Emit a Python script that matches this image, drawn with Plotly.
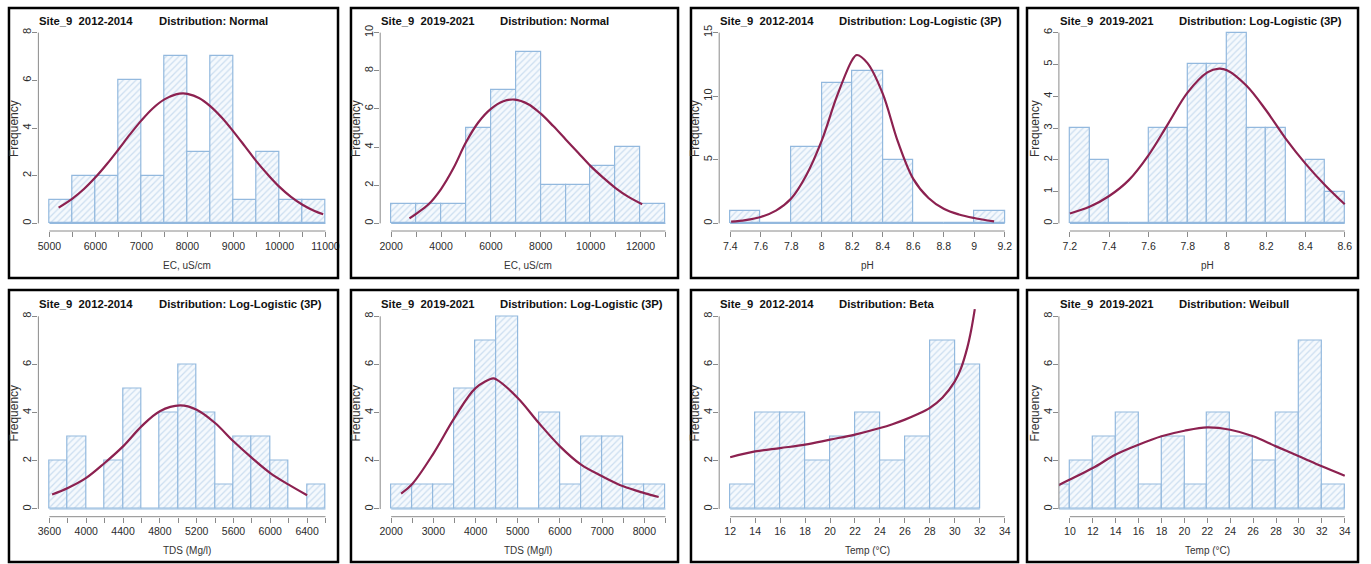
import plotly.graph_objects as go

# ---------------- DATA ----------------
# Histogram bin edges and counts, plus points
ec_1214_edges = [5000, 5500, 6000, 6500, 7000, 7500, 8000, 8500, 9000, 9500, 10000, 10500, 11000]
ec_1214_counts = [1, 2, 2, 6, 2, 7, 3, 7, 1, 3, 1, 1]
ec_1214_fit_x = [5200, 5500, 5750, 6000, 6250, 6500, 6750, 7000, 7250, 7500, 7750, 7900, 8000,
                 8250, 8500, 8750, 9000, 9250, 9500, 9750, 10000, 10250, 10500, 10750, 10950]
ec_1214_fit_y = [0.66, 1.04, 1.44, 1.93, 2.49, 3.10, 3.73, 4.32, 4.83, 5.20, 5.41, 5.45, 5.43,
                 5.26, 4.91, 4.43, 3.85, 3.23, 2.60, 2.04, 1.53, 1.11, 0.78, 0.53, 0.38]

ec_1921_edges = [2000, 3000, 4000, 5000, 6000, 7000, 8000, 9000, 10000, 11000, 12000, 13000]
ec_1921_counts = [1, 1, 1, 5, 7, 9, 2, 2, 3, 4, 1]
ec_1921_fit_x = [2733, 3000, 3500, 4000, 4500, 5000, 5500, 6000, 6500, 6950, 7500, 8000, 8500,
                 9000, 9500, 10000, 10500, 11000, 11500, 12067]
ec_1921_fit_y = [0.26, 0.5, 1.0, 1.8, 2.9, 4.25, 5.3, 6.0, 6.4, 6.49, 6.25, 5.75, 5.1,
                 4.4, 3.7, 3.0, 2.4, 1.85, 1.4, 1.0]

ph_1214_edges = [7.4, 7.6, 7.8, 8.0, 8.2, 8.4, 8.6, 8.8, 9.0, 9.2]
ph_1214_counts = [1, 0, 6, 11, 12, 5, 0, 0, 1]
ph_1214_fit_x = [7.406, 7.5, 7.6, 7.7, 7.8, 7.9, 8.0, 8.1, 8.2, 8.23, 8.3, 8.4, 8.5, 8.6, 8.7,
                 8.8, 8.9, 9.0, 9.13]
ph_1214_fit_y = [0.13, 0.25, 0.5, 1.0, 1.95, 3.8, 6.5, 10.0, 12.85, 13.24, 12.6, 10.2, 6.4, 3.5,
                 2.0, 1.15, 0.7, 0.42, 0.15]

ph_1921_edges = [7.2, 7.3, 7.4, 7.5, 7.6, 7.7, 7.8, 7.9, 8.0, 8.1, 8.2, 8.3, 8.4, 8.5, 8.6]
ph_1921_counts = [3, 2, 0, 0, 3, 3, 5, 5, 6, 3, 3, 0, 2, 1]
ph_1921_fit_x = [7.2, 7.3, 7.4, 7.5, 7.6, 7.7, 7.8, 7.9, 7.96, 8.0, 8.1, 8.2, 8.3, 8.4, 8.5, 8.6]
ph_1921_fit_y = [0.31, 0.52, 0.86, 1.36, 2.14, 3.13, 4.12, 4.75, 4.87, 4.82, 4.33, 3.55, 2.66,
                 1.88, 1.2, 0.6]

tds_1214_edges = [3600, 3800, 4000, 4200, 4400, 4600, 4800, 5000, 5200, 5400, 5600, 5800, 6000,
                  6200, 6400, 6600]
tds_1214_counts = [2, 3, 0, 2, 5, 0, 4, 6, 4, 1, 3, 3, 2, 0, 1]
tds_1214_fit_x = [3629, 3800, 4000, 4200, 4400, 4600, 4800, 5020, 5200, 5400, 5600, 5800, 6000,
                  6200, 6400]
tds_1214_fit_y = [0.6, 0.87, 1.29, 1.91, 2.6, 3.43, 4.06, 4.3, 4.12, 3.57, 2.81, 2.12, 1.49,
                  1.01, 0.57]

tds_1921_edges = [2000, 2500, 3000, 3500, 4000, 4500, 5000, 5500, 6000, 6500, 7000, 7500, 8000, 8500]
tds_1921_counts = [1, 1, 1, 5, 7, 8, 0, 4, 1, 3, 3, 1, 1]
tds_1921_fit_x = [2236, 2500, 3000, 3500, 4000, 4420, 4500, 5000, 5500, 6000, 6500, 7000, 7500,
                  8000, 8339]
tds_1921_fit_y = [0.64, 1.04, 2.3, 3.78, 5.02, 5.42, 5.37, 4.61, 3.57, 2.6, 1.84, 1.36, 0.94,
                  0.66, 0.5]

temp_1214_edges = [12, 14, 16, 18, 20, 22, 24, 26, 28, 30, 32]
temp_1214_counts = [1, 4, 4, 2, 3, 4, 2, 3, 7, 6]
temp_1214_fit_x = [12, 14, 16, 18, 20, 22, 24, 25, 26, 27, 28, 29, 30, 30.5, 31, 31.3, 31.6]
temp_1214_fit_y = [2.15, 2.39, 2.53, 2.67, 2.88, 3.09, 3.36, 3.52, 3.71, 3.93, 4.2, 4.62, 5.3,
                   5.85, 6.7, 7.4, 8.3]

temp_1921_edges = [8, 10, 12, 14, 16, 18, 20, 22, 24, 26, 28, 30, 32, 34]
temp_1921_counts = [1, 2, 3, 4, 1, 3, 1, 4, 3, 2, 4, 7, 1]
temp_1921_fit_x = [9.0, 10, 12, 14, 16, 18, 20, 22, 24, 26, 28, 30, 32, 34]
temp_1921_fit_y = [0.99, 1.22, 1.70, 2.26, 2.67, 3.02, 3.25, 3.39, 3.29, 3.02, 2.6, 2.19, 1.77, 1.38]

# Titles / labels
site_labels = ["Site_9  2012-2014", "Site_9  2019-2021", "Site_9  2012-2014", "Site_9  2019-2021",
               "Site_9  2012-2014", "Site_9  2019-2021", "Site_9  2012-2014", "Site_9  2019-2021"]
dist_labels = ["Distribution: Normal", "Distribution: Normal",
               "Distribution: Log-Logistic (3P)", "Distribution: Log-Logistic (3P)",
               "Distribution: Log-Logistic (3P)", "Distribution: Log-Logistic (3P)",
               "Distribution: Beta", "Distribution: Weibull"]
x_titles = ["EC, uS/cm", "EC, uS/cm", "pH", "pH", "TDS (Mg/l)", "TDS (Mg/l)", "Temp (°C)", "Temp (°C)"]
y_title = "Frequency"

# Axis ticks (values and labels)
x_ticks = [
    [5000, 5500, 6000, 6500, 7000, 7500, 8000, 8500, 9000, 9500, 10000, 10500, 11000],
    [2000, 3000, 4000, 5000, 6000, 7000, 8000, 9000, 10000, 11000, 12000, 13000],
    [7.4, 7.6, 7.8, 8.0, 8.2, 8.4, 8.6, 8.8, 9.0, 9.2],
    [7.2, 7.4, 7.6, 7.8, 8.0, 8.2, 8.4, 8.6],
    [3600, 3800, 4000, 4200, 4400, 4600, 4800, 5000, 5200, 5400, 5600, 5800, 6000, 6200, 6400, 6600],
    [2000, 2500, 3000, 3500, 4000, 4500, 5000, 5500, 6000, 6500, 7000, 7500, 8000, 8500],
    [12, 14, 16, 18, 20, 22, 24, 26, 28, 30, 32, 34],
    [10, 12, 14, 16, 18, 20, 22, 24, 26, 28, 30, 32, 34],
]
x_tick_labels = [
    ["5000", "", "6000", "", "7000", "", "8000", "", "9000", "", "10000", "", "11000"],
    ["2000", "", "4000", "", "6000", "", "8000", "", "10000", "", "12000", ""],
    ["7.4", "7.6", "7.8", "8", "8.2", "8.4", "8.6", "8.8", "9", "9.2"],
    ["7.2", "7.4", "7.6", "7.8", "8", "8.2", "8.4", "8.6"],
    ["3600", "", "4000", "", "4400", "", "4800", "", "5200", "", "5600", "", "6000", "", "6400", ""],
    ["2000", "", "3000", "", "4000", "", "5000", "", "6000", "", "7000", "", "8000", ""],
    ["12", "14", "16", "18", "20", "22", "24", "26", "28", "30", "32", "34"],
    ["10", "12", "14", "16", "18", "20", "22", "24", "26", "28", "30", "32", "34"],
]
y_ticks = [
    [0, 2, 4, 6, 8],
    [0, 2, 4, 6, 8, 10],
    [0, 5, 10, 15],
    [0, 1, 2, 3, 4, 5, 6],
    [0, 2, 4, 6, 8],
    [0, 2, 4, 6, 8],
    [0, 2, 4, 6, 8],
    [0, 2, 4, 6, 8],
]

hist_edges = [ec_1214_edges, ec_1921_edges, ph_1214_edges, ph_1921_edges,
              tds_1214_edges, tds_1921_edges, temp_1214_edges, temp_1921_edges]
hist_counts = [ec_1214_counts, ec_1921_counts, ph_1214_counts, ph_1921_counts,
               tds_1214_counts, tds_1921_counts, temp_1214_counts, temp_1921_counts]
fit_x = [ec_1214_fit_x, ec_1921_fit_x, ph_1214_fit_x, ph_1921_fit_x,
         tds_1214_fit_x, tds_1921_fit_x, temp_1214_fit_x, temp_1921_fit_x]
fit_y = [ec_1214_fit_y, ec_1921_fit_y, ph_1214_fit_y, ph_1921_fit_y,
         tds_1214_fit_y, tds_1921_fit_y, temp_1214_fit_y, temp_1921_fit_y]

# ---------------- LAYOUT CONSTANTS (pixels) ----------------
W, H = 1371, 564
col_px = [(37.5, 336.5), (380.3, 677.4), (720.3, 1017.7), (1061.0, 1358.7)]
row_px = [(25.0, 231.0), (308.6, 516.7)]
frame_col = [(8, 338), (351, 679), (692, 1020), (1029, 1361)]
frame_row = [(8, 278), (290, 562)]
site_x = [36, 379, 719, 1060]
dist_x = [156, 498, 838, 1179]
title_y = [21, 304]
ytitle_x = [13, 356, 696, 1037]
xtitle_y = [265, 550]

FONT = "Liberation Sans, Arial, sans-serif"
BAR_LINE = "#93b9de"
HATCH = "#a3c3e3"
CURVE = "#8c2150"
TICK = "#8a8a8a"

fig = go.Figure()
layout = dict(
    width=W, height=H, margin=dict(l=0, r=0, t=0, b=0),
    paper_bgcolor="white", plot_bgcolor="white", showlegend=False,
)
shapes = []
annotations = []


def ext(lo, hi):
    d = (hi - lo) * 0.04
    return [lo - d, hi + d]


for i in range(8):
    r, c = divmod(i, 4)
    n = i + 1
    xa = "x" if n == 1 else f"x{n}"
    ya = "y" if n == 1 else f"y{n}"
    edges = hist_edges[i]
    counts = hist_counts[i]
    mids = [(a + b) / 2 for a, b in zip(edges[:-1], edges[1:])]
    widths = [b - a for a, b in zip(edges[:-1], edges[1:])]

    # baseline across all bins (empty bins show as a flat line)
    fig.add_trace(go.Scatter(x=[edges[0], edges[-1]], y=[0, 0], mode="lines",
                             line=dict(color=BAR_LINE, width=1.2), xaxis=xa, yaxis=ya,
                             hoverinfo="skip"))
    fig.add_trace(go.Bar(
        x=mids, y=counts, width=widths, xaxis=xa, yaxis=ya,
        marker=dict(color="#f5f9fd", line=dict(color=BAR_LINE, width=1.2),
                    pattern=dict(shape="/", fgcolor=HATCH, bgcolor="#f5f9fd",
                                 size=4.5, solidity=0.28)),
    ))
    fig.add_trace(go.Scatter(
        x=fit_x[i], y=fit_y[i], mode="lines", xaxis=xa, yaxis=ya,
        line=dict(color=CURVE, width=2.2, shape="spline", smoothing=1.0),
    ))

    xt = x_ticks[i]
    yt = y_ticks[i]
    xr = ext(xt[0], xt[-1])
    yr = ext(yt[0], yt[-1])
    x0p, x1p = col_px[c]
    y0p, y1p = row_px[r]
    key_x = "xaxis" if n == 1 else f"xaxis{n}"
    key_y = "yaxis" if n == 1 else f"yaxis{n}"
    layout[key_x] = dict(
        domain=[x0p / W, x1p / W], range=xr, anchor=ya,
        tickmode="array", tickvals=xt, ticktext=x_tick_labels[i],
        ticks="outside", ticklen=5, tickwidth=1, tickcolor=TICK,
        showline=False, showgrid=False, zeroline=False,
        tickfont=dict(family=FONT, size=10.5, color="#2b2b2b"),
    )
    layout[key_y] = dict(
        domain=[1 - y1p / H, 1 - y0p / H], range=yr, anchor=xa,
        tickmode="array", tickvals=yt, ticktext=[str(v) for v in yt],
        ticks="outside", ticklen=5, tickwidth=1, tickcolor=TICK, tickangle=-90,
        ticklabelstandoff=-3,
        showline=False, showgrid=False, zeroline=False,
        tickfont=dict(family=FONT, size=11, color="#2b2b2b"),
    )
    # axis lines spanning first..last tick
    shapes.append(dict(type="line", xref=xa, yref=f"{ya} domain", x0=xt[0], x1=xt[-1],
                       y0=0, y1=0, line=dict(color=TICK, width=1)))
    shapes.append(dict(type="line", xref=f"{xa} domain", yref=ya, x0=0, x1=0,
                       y0=yt[0], y1=yt[-1], line=dict(color=TICK, width=1)))
    # frame
    fx0, fx1 = frame_col[c]
    fy0, fy1 = frame_row[r]
    shapes.append(dict(type="rect", xref="paper", yref="paper",
                       x0=fx0 / W, x1=fx1 / W, y0=1 - fy1 / H, y1=1 - fy0 / H,
                       line=dict(color="black", width=2.5), fillcolor="rgba(0,0,0,0)",
                       layer="above"))
    # titles
    annotations.append(dict(text=f"<b>{site_labels[i]}</b>", xref="paper", yref="paper",
                            x=site_x[c] / W, y=1 - title_y[r] / H, xanchor="left",
                            yanchor="middle", showarrow=False,
                            font=dict(family=FONT, size=11.3, color="#111")))
    annotations.append(dict(text=f"<b>{dist_labels[i]}</b>", xref="paper", yref="paper",
                            x=dist_x[c] / W, y=1 - title_y[r] / H, xanchor="left",
                            yanchor="middle", showarrow=False,
                            font=dict(family=FONT, size=11.3, color="#111")))
    annotations.append(dict(text=x_titles[i], xref="paper", yref="paper",
                            x=(x0p + x1p) / 2 / W, y=1 - xtitle_y[r] / H,
                            xanchor="center", yanchor="middle", showarrow=False,
                            font=dict(family=FONT, size=10, color="#333")))
    annotations.append(dict(text=y_title, xref="paper", yref="paper",
                            x=ytitle_x[c] / W, y=1 - (y0p + y1p) / 2 / H,
                            xanchor="center", yanchor="middle", textangle=-90,
                            showarrow=False,
                            font=dict(family=FONT, size=12, color="#333")))

layout["shapes"] = shapes
layout["annotations"] = annotations
layout["bargap"] = 0
fig.update_layout(**layout)
fig.write_html("out.html")
